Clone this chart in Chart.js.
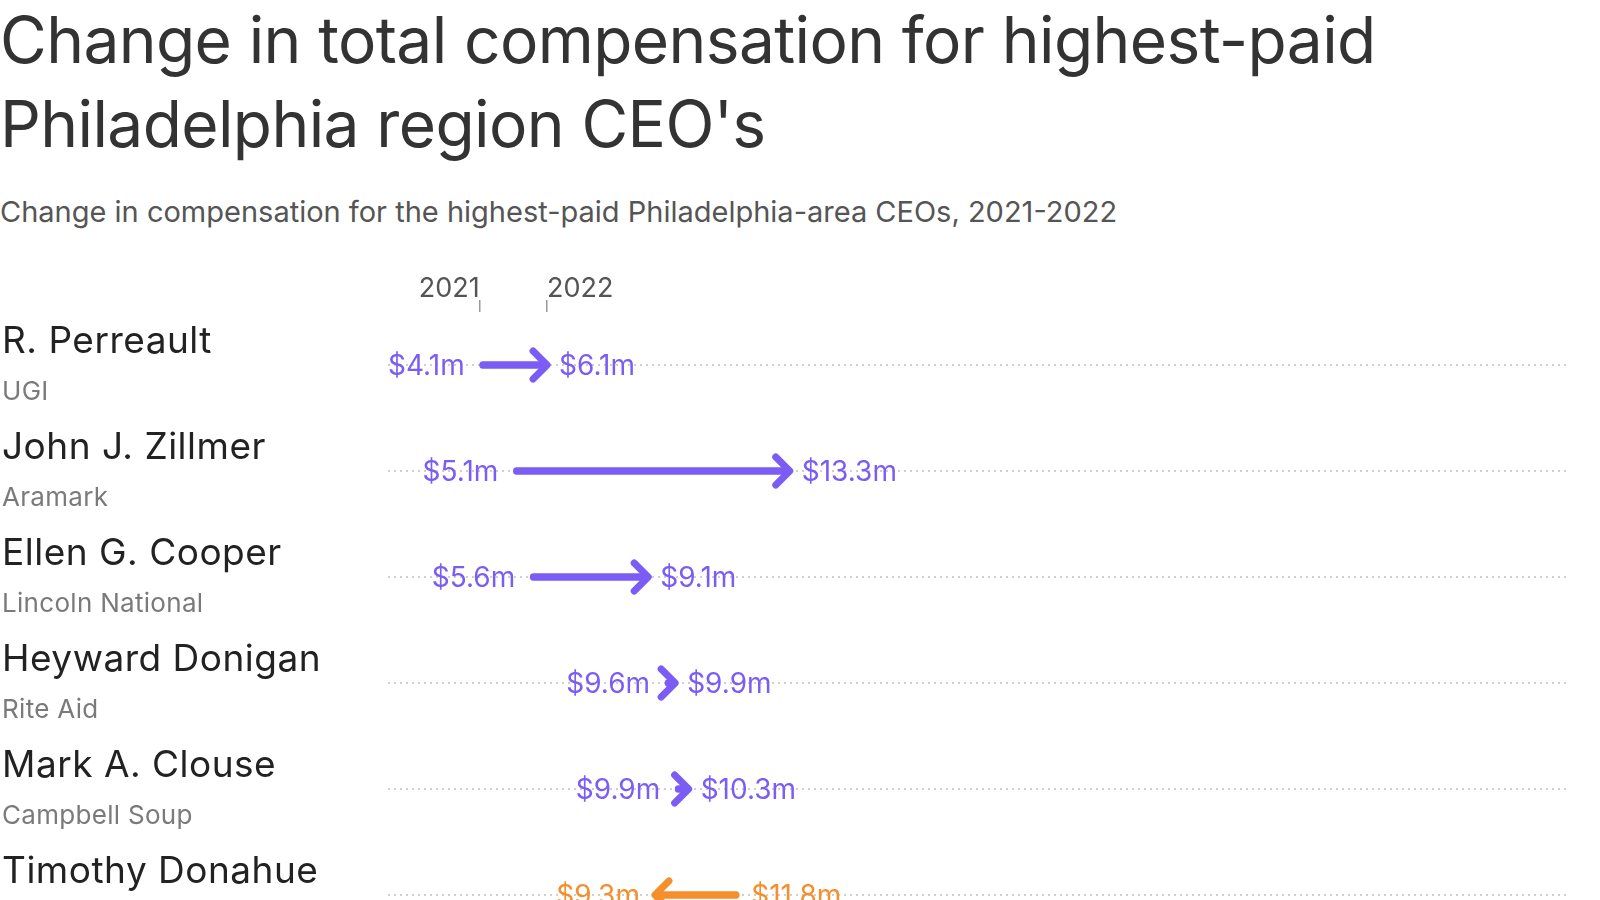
<!DOCTYPE html>
<html>
<head>
<meta charset="utf-8">
<script src="https://cdn.jsdelivr.net/npm/chart.js@4.4.1/dist/chart.umd.min.js"></script>
<style>
  html, body { margin: 0; padding: 0; background: #fff; overflow: hidden; width: 1600px; height: 900px; }
  #title { position: absolute; left: 0; top: -2px; font-family: Inter, sans-serif; font-size: 64px; line-height: 84px; color: #333; white-space: nowrap; letter-spacing: -0.6px; }
  #subtitle { position: absolute; left: 0; top: 194px; font-family: Inter, sans-serif; font-size: 29px; line-height: 36px; color: #555; white-space: nowrap; }
  #chartWrap { position: absolute; left: 0; top: 0; width: 1600px; height: 1000px; }
</style>
</head>
<body>
<div id="title">Change in total compensation for highest-paid<br>Philadelphia region CEO's</div>
<div id="subtitle">Change in compensation for the highest-paid Philadelphia-area CEOs, 2021-2022</div>
<div id="chartWrap"><canvas id="c" width="1600" height="1000"></canvas></div>
<script>
const names = ["R. Perreault", "John J. Zillmer", "Ellen G. Cooper", "Heyward Donigan", "Mark A. Clouse", "Timothy Donahue"];
const companies = ["UGI", "Aramark", "Lincoln National", "Rite Aid", "Campbell Soup", "Crown Holdings"];
const comp2021 = [4.1, 5.1, 5.6, 9.6, 9.9, 11.8];
const comp2022 = [6.1, 13.3, 9.1, 9.9, 10.3, 9.3];
const yearLabels = ["2021", "2022"];
const yearTickValues = [comp2021[0], comp2022[0]];

const PURPLE = "#7b5cf5";
const ORANGE = "#f58f2c";
const rowColor = (i) => comp2022[i] >= comp2021[i] ? PURPLE : ORANGE;
const fmt = (v) => "$" + v.toFixed(1) + "m";

const arrowPlugin = {
  id: "arrows",
  afterDatasetsDraw(chart) {
    const ctx = chart.ctx, xs = chart.scales.x, ys = chart.scales.y;
    ctx.save();
    names.forEach((n, i) => {
      const y = ys.getPixelForValue(i);
      const x0 = xs.getPixelForValue(comp2021[i]);
      const x1 = xs.getPixelForValue(comp2022[i]);
      const dir = x1 >= x0 ? 1 : -1;
      const col = rowColor(i);
      ctx.strokeStyle = col;
      ctx.lineWidth = 7;
      ctx.lineCap = "round";
      ctx.lineJoin = "round";
      ctx.beginPath();
      ctx.moveTo(x1 - dir * 14, y - 14);
      ctx.lineTo(x1, y);
      ctx.lineTo(x1 - dir * 14, y + 14);
      ctx.stroke();
      ctx.fillStyle = col;
      ctx.font = "28px Inter, sans-serif";
      ctx.textBaseline = "alphabetic";
      const lo = Math.min(x0, x1), hi = Math.max(x0, x1);
      const loV = dir > 0 ? comp2021[i] : comp2022[i];
      const hiV = dir > 0 ? comp2022[i] : comp2021[i];
      ctx.textAlign = "right";
      ctx.fillText(fmt(loV), lo - 15, y + 10);
      ctx.textAlign = "left";
      ctx.fillText(fmt(hiV), hi + 12, y + 10);
    });
    ctx.restore();
  },
  afterDraw(chart) {
    const ctx = chart.ctx, xs = chart.scales.x, ys = chart.scales.y;
    ctx.save();
    ctx.textBaseline = "alphabetic";
    names.forEach((n, i) => {
      const y = ys.getPixelForValue(i);
      ctx.textAlign = "left";
      ctx.fillStyle = "#222";
      ctx.font = "37px Inter, sans-serif";
      ctx.letterSpacing = "0.5px";
      ctx.fillText(n, 2, y - 12);
      ctx.fillStyle = "#7a7a7a";
      ctx.font = "26px Inter, sans-serif";
      ctx.letterSpacing = "0.3px";
      ctx.fillText(companies[i], 2, y + 35);
    });
    ctx.letterSpacing = "0px";
    ctx.fillStyle = "#555";
    ctx.font = "27px Inter, sans-serif";
    xs.ticks.forEach((t, k) => {
      const px = xs.getPixelForValue(t.value);
      ctx.textAlign = k === 0 ? "right" : "left";
      ctx.fillText(yearLabels[k], px, 297);
    });
    ctx.restore();
  }
};

new Chart(document.getElementById("c"), {
  type: "bar",
  data: {
    labels: names,
    datasets: [{
      data: comp2021.map((v, i) => [v, comp2022[i]]),
      backgroundColor: names.map((n, i) => rowColor(i)),
      barThickness: 7,
      borderRadius: 4,
      borderSkipped: false,
      borderWidth: 0
    }]
  },
  options: {
    indexAxis: "y",
    responsive: false,
    devicePixelRatio: 1,
    animation: false,
    layout: { padding: { left: 388, right: 30, top: 300, bottom: 52 } },
    plugins: { legend: { display: false }, tooltip: { enabled: false }, title: { display: false } },
    scales: {
      x: {
        type: "linear",
        position: "top",
        min: 1.38,
        max: 36.45,
        afterBuildTicks: (scale) => { scale.ticks = yearTickValues.map(v => ({ value: v })); },
        ticks: { display: false },
        grid: { drawOnChartArea: false, drawTicks: true, tickLength: 12, color: "#999", lineWidth: 1.5 },
        border: { display: false }
      },
      y: {
        type: "category",
        offset: true,
        ticks: { display: false },
        grid: { offset: false, drawTicks: false, color: "#cfcfcf", lineWidth: 2 },
        border: { display: false, dash: [2, 4] }
      }
    }
  },
  plugins: [arrowPlugin]
});
</script>
</body>
</html>
